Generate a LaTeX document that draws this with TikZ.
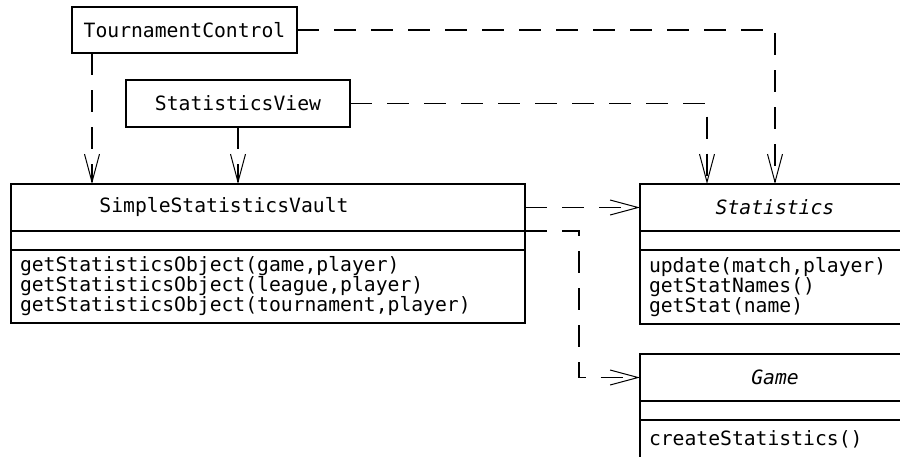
\documentclass[tikz,border=0pt]{standalone}
\usepackage{fontspec}
\setmonofont{DejaVu Sans Mono}
\usepackage{tikz}
\usetikzlibrary{arrows.meta,positioning}
\newcommand{\umlfont}{\ttfamily\fontsize{19.7}{20}\selectfont}

\begin{document}
\begin{tikzpicture}[x=1pt, y=-1pt,
    part/.style={draw, line width=1.3pt, outer sep=0pt, inner sep=0pt, minimum width=#1, font=\umlfont},
    ops/.style={draw, line width=1.3pt, outer sep=0pt, inner xsep=9pt, inner ysep=0pt, text width=#1, align=left, font=\umlfont},
    dep/.style={line width=1.3pt, dash pattern=on 22pt off 15pt, -{Straight Barb[length=28pt, width=15pt, line width=1pt]}}
]
\useasboundingbox (0,0) rectangle (900,456);
\clip (0,0) rectangle (900,456);

\node[part=225pt, minimum height=46pt] (tc) at (184.5,30) {TournamentControl};
\node[part=224pt, minimum height=47pt] (sv) at (238,103.5) {StatisticsView};

\node[part=514pt, minimum height=47pt] (ssv) at (268,207.5) {};
\node[font=\umlfont] (ssvname) at ([xshift=-44pt]ssv.center) {SimpleStatisticsVault};
\node[part=514pt, minimum height=19pt, below=0pt of ssv] (ssvattr) {};
\node[ops=496pt, minimum height=73pt, below=0pt of ssvattr] (ssvops) {getStatisticsObject(game,player)\\getStatisticsObject(league,player)\\getStatisticsObject(tournament,player)};

\node[part=270pt, minimum height=47pt] (stat) at (775,207.5) {\itshape Statistics};
\node[part=270pt, minimum height=19pt, below=0pt of stat] (statattr) {};
\node[ops=252pt, minimum height=74pt, below=0pt of statattr] (statops) {update(match,player)\\getStatNames()\\getStat(name)};

\node[part=270pt, minimum height=47pt] (game) at (775,377.5) {\itshape Game};
\node[part=270pt, minimum height=19pt, below=0pt of game] (gameattr) {};
\node[ops=252pt, minimum height=38pt, below=0pt of gameattr] (gameops) {createStatistics()};

\draw[dep] ([xshift=20pt]tc.south west) -- ([xshift=20pt]tc.south west |- ssv.north);
\draw[dep] (sv.south) -- (sv.south |- ssv.north);
\draw[dep] (tc.east) -| (stat.north);
\draw[dep] (sv.east) -| ([xshift=-68pt]stat.north);
\draw[dep] (ssv.east) -- (stat.west);
\draw[dep] (ssv.south east) -- ++(54,0) |- (game.west);
\end{tikzpicture}
\end{document}
